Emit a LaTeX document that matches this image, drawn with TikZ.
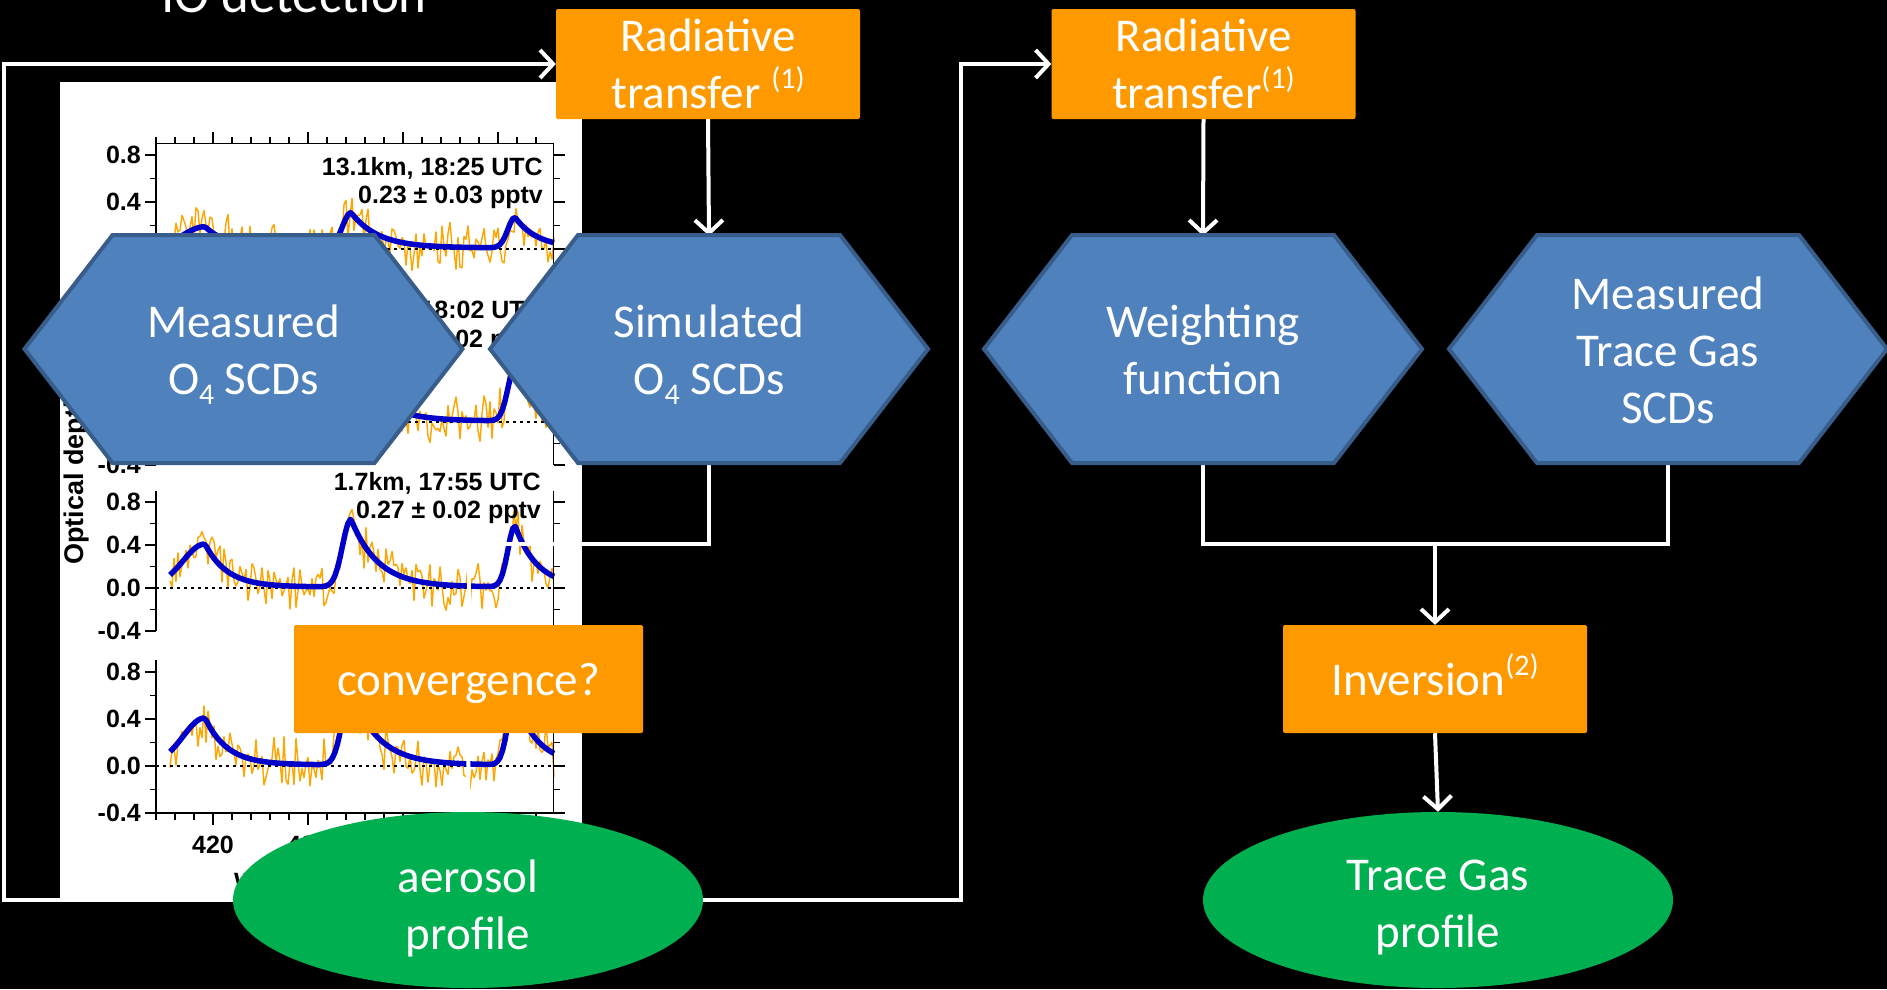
\documentclass[tikz,border=0pt]{standalone}
\usepackage{fontspec}
\setmainfont{Carlito}
\newfontfamily\plotfont{Liberation Sans}
\usetikzlibrary{arrows.meta,shapes.geometric}
\definecolor{orng}{HTML}{FF9900}
\definecolor{hexblue}{HTML}{4F81BD}
\definecolor{hexline}{HTML}{385D8A}
\definecolor{grn}{HTML}{00B050}
\definecolor{tracecol}{HTML}{FFA500}
\definecolor{fitblue}{HTML}{0000C8}
\pgfdeclarelayer{bgl}
\pgfdeclarelayer{plotl}
\pgfdeclarelayer{connl}
\pgfsetlayers{bgl,plotl,connl,main}
\newcommand\sups[1]{\raisebox{0.42em}[0pt][0pt]{\fontsize{30}{30}\selectfont #1}}
\newcommand\subs[1]{\raisebox{-0.22em}[0pt][0pt]{\fontsize{30}{30}\selectfont #1}}
\newcommand\hexat[2]{\filldraw[hexfill] ({#1-219},#2) -- ({#1-131},{#2-114}) -- ({#1+131},{#2-114}) -- ({#1+219},#2) -- ({#1+131},{#2+114}) -- ({#1-131},{#2+114}) -- cycle;}
\tikzset{
  declare function={
    pk(\xv,\posc,\wdl,\wdr)=exp(-min((min(\xv-\posc,0)/\wdl)*(min(\xv-\posc,0)/\wdl),15)-min(max(\xv-\posc,0)/\wdr,15));
    iof(\xv,\ampA,\ampB,\ampC)=0.01+\ampA*pk(\xv,205,31,22)+\ampB*pk(\xv,351,12,27)+\ampC*pk(\xv,515,10,22);
  },
  bigtxt/.style={text=white, align=center, font=\fontsize{47}{57}\selectfont},
  obox/.style={bigtxt, fill=orng, rounded corners=2pt, inner sep=0pt, minimum width=304pt, minimum height=110pt},
  hexlbl/.style={bigtxt, inner sep=0pt, minimum width=438pt, minimum height=228pt},
  hexfill/.style={fill=hexblue, draw=hexline, line width=4pt, line join=miter},
  oval/.style={ellipse, fill=grn, inner sep=0pt, minimum width=470pt, minimum height=176pt},
  conn/.style={draw=white, line width=4pt},
  arr/.style={conn, -{Straight Barb[length=13pt,width=28pt]}},
  plbl/.style={font=\plotfont\bfseries\fontsize{25}{28}\selectfont, inner sep=0pt, text=black},
  axisln/.style={black, line width=1.5pt},
}
\newcommand\iopanel[6]{%
  \pgfmathsetseed{#6}%
  \draw[tracecol, line width=1.4pt, line join=round] plot[domain=170:554, samples=193] (\x,{#1-#2*(iof(\x,#3,#4,#5)+0.13*(rand+rand))});
  \draw[black, line width=1.3pt, dash pattern=on 3pt off 4pt] (156,#1) -- (553.5,#1);
  \draw[fitblue, line width=5.5pt, line join=round] plot[domain=170:554, samples=150] (\x,{#1-#2*iof(\x,#3,#4,#5)});
  \draw[axisln] (156,{#1-0.9*#2}) -- (156,{#1+0.4*#2});
  \draw[axisln] (553.5,{#1-0.9*#2}) -- (553.5,{#1+0.4*#2});
  \foreach \v/\tk in {-0.4/11,-0.2/6,0/11,0.2/6,0.4/11,0.6/6,0.8/11}{
    \draw[axisln] (156,{#1-#2*\v}) -- ++(-\tk,0);
    \draw[axisln] (553.5,{#1-#2*\v}) -- ++(\tk,0);}
  \foreach \v/\t in {-0.4/-0.4,0/0.0,0.4/0.4,0.8/0.8}
    \node[plbl, anchor=east] at (141,{#1-#2*\v}) {\t};
}
\begin{document}
\begin{tikzpicture}[x=1pt,y=-1pt]
\begin{pgfonlayer}{bgl}
\fill[black] (0,0) rectangle (1887,989);
\end{pgfonlayer}
\useasboundingbox (0,0) rectangle (1887,989);
\clip (0,0) rectangle (1887,989);

\node[bigtxt, font=\fontsize{53}{60}\selectfont, anchor=base, inner sep=0pt] (title) at (294,12) {IO detection};

% embedded spectrum plot
\begin{pgfonlayer}{plotl}
\fill[white] (60,82) rectangle (582,901);
\iopanel{249}{117.5}{0.18}{0.30}{0.26}{11}
\iopanel{422}{107.5}{0.35}{0.55}{0.50}{22}
\iopanel{588}{107.5}{0.40}{0.63}{0.57}{33}
\iopanel{766}{117.5}{0.40}{0.63}{0.57}{44}
\draw[axisln] (156,143.25) -- (553.5,143.25);
\draw[axisln] (156,813) -- (553.5,813);
\foreach \k in {0,...,20}{
  \draw[axisln] ({156+19*\k},143.25) -- ++(0,-6);
  \draw[axisln] ({156+19*\k},813) -- ++(0,7);}
\foreach \k/\t in {3/420,8/430,13/440,18/450}{
  \draw[axisln] ({156+19*\k},143.25) -- ++(0,-11);
  \draw[axisln] ({156+19*\k},813) -- ++(0,12);
  \node[plbl, anchor=base] at ({156+19*\k},853) {\t};}
\node[plbl, anchor=base west] at (234,890) {Wavelength (nm)};
\node[plbl, font=\plotfont\bfseries\fontsize{27}{28}\selectfont, rotate=90, anchor=base west] at (83,565) {Optical depth ×10\textsuperscript{-3}};
\node[plbl, anchor=base east] at (543,175) {13.1km, 18:25 UTC};
\node[plbl, anchor=base east] at (543,203) {0.23 ± 0.03 pptv};
\node[plbl, anchor=base east] at (543,318) {6.6km, 18:02 UTC};
\node[plbl, anchor=base east] at (543,347) {0.25 ± 0.02 pptv};
\node[plbl, anchor=base east] at (541,490) {1.7km, 17:55 UTC};
\node[plbl, anchor=base east] at (541,518) {0.27 ± 0.02 pptv};
\end{pgfonlayer}

% hexagons
\hexat{243.5}{349}
\hexat{709}{349}
\hexat{1203}{349}
\hexat{1668}{349}
\node[hexlbl] (mo4) at (243.5,350) {Measured\\O\subs{4} SCDs};
\node[hexlbl] (sim) at (709,350) {Simulated\\O\subs{4} SCDs};
\node[hexlbl] (wf) at (1203,350) {Weighting\\function};
\node[hexlbl] (mt) at (1668,350) {Measured\\Trace Gas\\SCDs};

% boxes
\node[obox] (rt1) at (708,64) {Radiative\\transfer \sups{(1)}};
\node[obox] (rt2) at (1203.5,64) {Radiative\\transfer\sups{(1)}};
\node[obox, minimum width=349pt, minimum height=108pt, text depth=0pt] (conv) at (468.5,679) {convergence?};
\node[obox, minimum height=108pt] (inv) at (1435,679) {Inversion\sups{(2)}};

% ellipses
\node[oval] (aer) at (468,900) {};
\node[bigtxt] (aertxt) at (468,908) {aerosol\\profile};
\node[oval] (tgp) at (1438,900) {};
\node[bigtxt] (tgptxt) at (1438,908) {Trace Gas\\profile};

% connectors
\coordinate (lb) at (4,900);
\coordinate (lt) at (4,64);
\coordinate (rb) at (961,900);
\coordinate (rtop) at (961,64);
\coordinate (j1) at (709,544);
\coordinate (j2) at (1435,544);
\begin{pgfonlayer}{connl}
\draw[arr] (aer.west) -- (lb) -- (lt) -- (rt1.west);
\draw[arr] (rt1.south) -- (sim.north);
\draw[arr] (sim.south) -- (j1) -| (conv.north);
\draw[arr] (conv.south) -- (aer.north);
\draw[arr] (aer.east) -- (rb) -- (rtop) -- (rt2.west);
\draw[arr] (rt2.south) -- (wf.north);
\draw[conn] (wf.south) |- (j2) -| (mt.south);
\draw[arr] (j2) -- (inv.north);
\draw[arr] (inv.south) -- (tgp.north);
\end{pgfonlayer}
\end{tikzpicture}
\end{document}
